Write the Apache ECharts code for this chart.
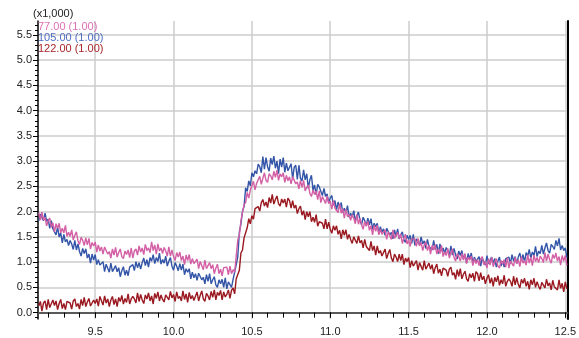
<!DOCTYPE html>
<html>
<head>
<meta charset="utf-8">
<script src="https://cdn.jsdelivr.net/npm/echarts@6/dist/echarts.min.js"></script>
<style>
html, body { margin: 0; padding: 0; background: #fff; }
#chart { width: 579px; height: 338px; }
</style>
</head>
<body>
<div id="chart"></div>
<script>
// retention time (min)
var times = [
  9.14, 9.15, 9.16, 9.17, 9.18, 9.19, 9.20, 9.21, 9.22, 9.23, 9.24, 9.25, 9.26, 9.27, 9.28, 9.29, 9.30, 9.31, 9.32, 9.33,
  9.34, 9.35, 9.36, 9.37, 9.38, 9.39, 9.40, 9.41, 9.42, 9.43, 9.44, 9.45, 9.46, 9.47, 9.48, 9.49, 9.50, 9.51, 9.52, 9.53,
  9.54, 9.55, 9.56, 9.57, 9.58, 9.59, 9.60, 9.61, 9.62, 9.63, 9.64, 9.65, 9.66, 9.67, 9.68, 9.69, 9.70, 9.71, 9.72, 9.73,
  9.74, 9.75, 9.76, 9.77, 9.78, 9.79, 9.80, 9.81, 9.82, 9.83, 9.84, 9.85, 9.86, 9.87, 9.88, 9.89, 9.90, 9.91, 9.92, 9.93,
  9.94, 9.95, 9.96, 9.97, 9.98, 9.99, 10.00, 10.01, 10.02, 10.03, 10.04, 10.05, 10.06, 10.07, 10.08, 10.09, 10.10, 10.11, 10.12, 10.13,
  10.14, 10.15, 10.16, 10.17, 10.18, 10.19, 10.20, 10.21, 10.22, 10.23, 10.24, 10.25, 10.26, 10.27, 10.28, 10.29, 10.30, 10.31, 10.32, 10.33,
  10.34, 10.35, 10.36, 10.37, 10.38, 10.39, 10.40, 10.41, 10.42, 10.43, 10.44, 10.45, 10.46, 10.47, 10.48, 10.49, 10.50, 10.51, 10.52, 10.53,
  10.54, 10.55, 10.56, 10.57, 10.58, 10.59, 10.60, 10.61, 10.62, 10.63, 10.64, 10.65, 10.66, 10.67, 10.68, 10.69, 10.70, 10.71, 10.72, 10.73,
  10.74, 10.75, 10.76, 10.77, 10.78, 10.79, 10.80, 10.81, 10.82, 10.83, 10.84, 10.85, 10.86, 10.87, 10.88, 10.89, 10.90, 10.91, 10.92, 10.93,
  10.94, 10.95, 10.96, 10.97, 10.98, 10.99, 11.00, 11.01, 11.02, 11.03, 11.04, 11.05, 11.06, 11.07, 11.08, 11.09, 11.10, 11.11, 11.12, 11.13,
  11.14, 11.15, 11.16, 11.17, 11.18, 11.19, 11.20, 11.21, 11.22, 11.23, 11.24, 11.25, 11.26, 11.27, 11.28, 11.29, 11.30, 11.31, 11.32, 11.33,
  11.34, 11.35, 11.36, 11.37, 11.38, 11.39, 11.40, 11.41, 11.42, 11.43, 11.44, 11.45, 11.46, 11.47, 11.48, 11.49, 11.50, 11.51, 11.52, 11.53,
  11.54, 11.55, 11.56, 11.57, 11.58, 11.59, 11.60, 11.61, 11.62, 11.63, 11.64, 11.65, 11.66, 11.67, 11.68, 11.69, 11.70, 11.71, 11.72, 11.73,
  11.74, 11.75, 11.76, 11.77, 11.78, 11.79, 11.80, 11.81, 11.82, 11.83, 11.84, 11.85, 11.86, 11.87, 11.88, 11.89, 11.90, 11.91, 11.92, 11.93,
  11.94, 11.95, 11.96, 11.97, 11.98, 11.99, 12.00, 12.01, 12.02, 12.03, 12.04, 12.05, 12.06, 12.07, 12.08, 12.09, 12.10, 12.11, 12.12, 12.13,
  12.14, 12.15, 12.16, 12.17, 12.18, 12.19, 12.20, 12.21, 12.22, 12.23, 12.24, 12.25, 12.26, 12.27, 12.28, 12.29, 12.30, 12.31, 12.32, 12.33,
  12.34, 12.35, 12.36, 12.37, 12.38, 12.39, 12.40, 12.41, 12.42, 12.43, 12.44, 12.45, 12.46, 12.47, 12.48, 12.49, 12.50, 12.51
];

// intensities (x1,000)
var ion77 = [
  1.98, 1.83, 1.99, 1.83, 1.89, 1.72, 1.82, 1.87, 1.69, 1.78, 1.60, 1.76, 1.67, 1.77, 1.58, 1.67, 1.58, 1.73, 1.51, 1.59,
  1.51, 1.64, 1.44, 1.53, 1.60, 1.42, 1.35, 1.49, 1.43, 1.33, 1.48, 1.34, 1.47, 1.26, 1.39, 1.32, 1.40, 1.20, 1.34, 1.22,
  1.30, 1.16, 1.30, 1.32, 1.16, 1.21, 1.08, 1.26, 1.14, 1.29, 1.10, 1.19, 1.26, 1.11, 1.07, 1.22, 1.15, 1.24, 1.09, 1.28,
  1.08, 1.22, 1.26, 1.14, 1.32, 1.20, 1.28, 1.15, 1.35, 1.23, 1.28, 1.19, 1.40, 1.23, 1.34, 1.16, 1.36, 1.22, 1.28, 1.17,
  1.29, 1.22, 1.12, 1.30, 1.12, 1.24, 1.11, 1.03, 1.19, 1.10, 1.20, 1.03, 1.12, 0.95, 1.14, 1.03, 1.15, 0.96, 1.07, 0.97,
  0.98, 1.06, 0.87, 1.01, 1.04, 0.85, 1.04, 0.87, 0.84, 0.99, 0.87, 0.95, 0.77, 0.88, 0.96, 0.77, 0.86, 0.73, 0.89, 0.86,
  0.90, 0.75, 0.92, 0.77, 0.85, 0.80, 1.12, 1.44, 1.53, 1.82, 1.83, 2.14, 2.18, 2.38, 2.27, 2.43, 2.40, 2.60, 2.43, 2.56,
  2.53, 2.70, 2.54, 2.66, 2.77, 2.62, 2.58, 2.75, 2.71, 2.63, 2.80, 2.68, 2.82, 2.62, 2.75, 2.69, 2.77, 2.58, 2.72, 2.61,
  2.69, 2.55, 2.69, 2.71, 2.55, 2.59, 2.45, 2.62, 2.48, 2.62, 2.41, 2.48, 2.53, 2.36, 2.30, 2.43, 2.34, 2.41, 2.24, 2.41,
  2.18, 2.30, 2.31, 2.16, 2.31, 2.16, 2.21, 2.05, 2.22, 2.07, 2.09, 1.98, 2.16, 1.97, 2.06, 1.87, 2.05, 1.90, 1.95, 1.83,
  1.94, 1.87, 1.76, 1.94, 1.75, 1.87, 1.74, 1.65, 1.81, 1.71, 1.81, 1.63, 1.72, 1.54, 1.73, 1.61, 1.73, 1.54, 1.65, 1.55,
  1.56, 1.64, 1.45, 1.60, 1.63, 1.45, 1.64, 1.47, 1.44, 1.59, 1.47, 1.55, 1.37, 1.48, 1.55, 1.36, 1.44, 1.31, 1.46, 1.43,
  1.46, 1.31, 1.47, 1.32, 1.39, 1.23, 1.34, 1.40, 1.23, 1.33, 1.16, 1.33, 1.24, 1.35, 1.16, 1.26, 1.17, 1.33, 1.11, 1.20,
  1.13, 1.27, 1.08, 1.18, 1.26, 1.09, 1.02, 1.17, 1.11, 1.02, 1.17, 1.04, 1.17, 0.97, 1.10, 1.04, 1.12, 0.93, 1.07, 0.97,
  1.05, 0.93, 1.07, 1.11, 0.95, 1.01, 0.88, 1.07, 0.94, 1.10, 0.91, 1.00, 1.07, 0.92, 0.88, 1.03, 0.96, 1.05, 0.90, 1.09,
  0.88, 1.02, 1.05, 0.92, 1.10, 0.97, 1.05, 0.91, 1.11, 0.98, 1.03, 0.94, 1.15, 0.98, 1.10, 0.93, 1.14, 1.01, 1.09, 0.99,
  1.12, 1.07, 0.99, 1.19, 1.02, 1.16, 1.05, 0.98, 1.15, 1.07, 1.18, 1.02, 1.11, 0.94, 1.13, 1.02, 1.13, 0.94
];
var ion105 = [
  1.82, 1.95, 1.97, 1.82, 1.97, 1.81, 1.85, 1.67, 1.82, 1.66, 1.66, 1.54, 1.70, 1.50, 1.58, 1.38, 1.55, 1.40, 1.45, 1.33,
  1.43, 1.36, 1.25, 1.43, 1.24, 1.36, 1.21, 1.12, 1.27, 1.17, 1.26, 1.08, 1.16, 0.98, 1.16, 1.04, 1.15, 0.95, 1.05, 0.94,
  0.94, 1.01, 0.81, 0.96, 0.98, 0.80, 0.98, 0.81, 0.78, 0.93, 0.81, 0.89, 0.71, 0.83, 0.91, 0.74, 0.84, 0.73, 0.90, 0.90,
  0.95, 0.83, 1.01, 0.89, 0.99, 0.86, 0.99, 1.08, 0.93, 1.05, 0.90, 1.09, 1.02, 1.15, 0.97, 1.09, 1.01, 1.18, 0.96, 1.05,
  0.98, 1.12, 0.92, 1.02, 1.09, 0.92, 0.84, 0.99, 0.92, 0.83, 0.97, 0.84, 0.96, 0.75, 0.87, 0.80, 0.87, 0.67, 0.80, 0.69,
  0.77, 0.64, 0.78, 0.81, 0.65, 0.70, 0.57, 0.75, 0.62, 0.77, 0.57, 0.65, 0.71, 0.55, 0.50, 0.65, 0.57, 0.66, 0.50, 0.69,
  0.47, 0.61, 0.63, 0.50, 0.66, 0.63, 0.95, 1.11, 1.60, 1.75, 2.01, 2.10, 2.47, 2.40, 2.61, 2.51, 2.77, 2.69, 2.81, 2.75,
  2.94, 2.89, 2.77, 3.09, 2.84, 3.07, 2.89, 2.80, 3.06, 2.93, 3.10, 2.86, 3.00, 2.75, 3.04, 2.88, 3.07, 2.78, 2.96, 2.81,
  2.82, 2.95, 2.65, 2.88, 2.92, 2.64, 2.92, 2.66, 2.61, 2.83, 2.63, 2.75, 2.46, 2.63, 2.72, 2.42, 2.53, 2.33, 2.54, 2.49,
  2.48, 2.32, 2.46, 2.30, 2.35, 2.18, 2.27, 2.32, 2.13, 2.22, 2.03, 2.19, 2.08, 2.18, 1.98, 2.07, 1.97, 2.12, 1.89, 1.97,
  1.89, 2.02, 1.82, 1.92, 1.99, 1.82, 1.74, 1.89, 1.82, 1.73, 1.87, 1.74, 1.86, 1.65, 1.77, 1.70, 1.77, 1.57, 1.70, 1.59,
  1.66, 1.53, 1.67, 1.70, 1.54, 1.59, 1.46, 1.64, 1.51, 1.66, 1.46, 1.54, 1.60, 1.44, 1.39, 1.53, 1.45, 1.53, 1.37, 1.55,
  1.33, 1.46, 1.48, 1.34, 1.50, 1.36, 1.42, 1.27, 1.45, 1.31, 1.34, 1.24, 1.43, 1.25, 1.35, 1.17, 1.36, 1.22, 1.28, 1.17,
  1.29, 1.23, 1.13, 1.32, 1.14, 1.27, 1.14, 1.06, 1.22, 1.13, 1.23, 1.06, 1.15, 0.98, 1.17, 1.06, 1.18, 0.99, 1.10, 1.01,
  1.02, 1.11, 0.92, 1.08, 1.11, 0.94, 1.13, 0.97, 0.94, 1.10, 0.98, 1.07, 0.90, 1.02, 1.10, 0.92, 1.02, 0.90, 1.07, 1.05,
  1.10, 0.97, 1.15, 1.02, 1.11, 0.97, 1.10, 1.18, 1.03, 1.15, 1.00, 1.19, 1.12, 1.25, 1.08, 1.20, 1.13, 1.31, 1.11, 1.22,
  1.17, 1.33, 1.16, 1.28, 1.38, 1.23, 1.18, 1.35, 1.31, 1.25, 1.43, 1.32, 1.47, 1.24, 1.33, 1.23, 1.28, 1.09
];
var ion122 = [
  0.13, 0.22, 0.03, 0.19, 0.23, 0.06, 0.26, 0.10, 0.09, 0.25, 0.14, 0.23, 0.06, 0.18, 0.26, 0.08, 0.18, 0.06, 0.22, 0.20,
  0.19, 0.07, 0.23, 0.27, 0.12, 0.18, 0.07, 0.26, 0.14, 0.30, 0.12, 0.21, 0.28, 0.13, 0.10, 0.25, 0.18, 0.27, 0.13, 0.32,
  0.29, 0.15, 0.33, 0.19, 0.27, 0.12, 0.25, 0.32, 0.16, 0.27, 0.12, 0.30, 0.22, 0.34, 0.17, 0.28, 0.20, 0.37, 0.17, 0.27,
  0.32, 0.27, 0.19, 0.39, 0.22, 0.36, 0.25, 0.18, 0.35, 0.27, 0.39, 0.23, 0.33, 0.17, 0.38, 0.28, 0.41, 0.23, 0.35, 0.26,
  0.21, 0.35, 0.38, 0.25, 0.42, 0.29, 0.36, 0.22, 0.41, 0.28, 0.32, 0.23, 0.43, 0.26, 0.37, 0.20, 0.40, 0.27, 0.34, 0.24,
  0.26, 0.41, 0.23, 0.34, 0.43, 0.27, 0.22, 0.38, 0.33, 0.25, 0.42, 0.30, 0.45, 0.25, 0.40, 0.34, 0.44, 0.25, 0.41, 0.31,
  0.36, 0.45, 0.28, 0.44, 0.49, 0.37, 0.67, 0.66, 0.84, 1.18, 1.24, 1.48, 1.46, 1.68, 1.86, 1.76, 1.92, 1.85, 2.06, 2.08,
  2.10, 2.01, 2.18, 2.24, 2.11, 2.19, 2.08, 2.28, 2.17, 2.34, 2.15, 2.24, 2.31, 2.16, 2.11, 2.25, 2.17, 2.25, 2.09, 2.27,
  2.22, 2.07, 2.22, 2.07, 2.13, 1.96, 2.06, 2.11, 1.93, 2.02, 1.84, 2.00, 1.90, 2.00, 1.80, 1.89, 1.79, 1.94, 1.71, 1.80,
  1.83, 1.77, 1.66, 1.85, 1.66, 1.79, 1.65, 1.57, 1.72, 1.63, 1.72, 1.55, 1.63, 1.46, 1.64, 1.53, 1.64, 1.45, 1.55, 1.45,
  1.37, 1.50, 1.51, 1.37, 1.52, 1.38, 1.43, 1.28, 1.45, 1.31, 1.33, 1.23, 1.41, 1.23, 1.32, 1.14, 1.32, 1.18, 1.23, 1.12,
  1.12, 1.26, 1.07, 1.17, 1.25, 1.08, 1.01, 1.16, 1.10, 1.01, 1.16, 1.03, 1.16, 0.95, 1.08, 1.01, 1.09, 0.89, 1.03, 0.92,
  0.95, 1.03, 0.84, 0.99, 1.02, 0.84, 1.03, 0.86, 0.83, 0.98, 0.86, 0.95, 0.77, 0.89, 0.96, 0.78, 0.86, 0.73, 0.88, 0.86,
  0.84, 0.72, 0.86, 0.90, 0.74, 0.79, 0.66, 0.85, 0.72, 0.87, 0.67, 0.76, 0.82, 0.67, 0.62, 0.77, 0.69, 0.78, 0.62, 0.81,
  0.77, 0.63, 0.79, 0.65, 0.72, 0.57, 0.68, 0.75, 0.58, 0.69, 0.52, 0.70, 0.61, 0.73, 0.54, 0.65, 0.57, 0.74, 0.52, 0.62,
  0.67, 0.62, 0.52, 0.72, 0.55, 0.69, 0.56, 0.49, 0.66, 0.58, 0.68, 0.52, 0.62, 0.46, 0.65, 0.55, 0.68, 0.50, 0.61, 0.52,
  0.46, 0.60, 0.62, 0.49, 0.66, 0.53, 0.59, 0.45, 0.64, 0.51, 0.54, 0.45, 0.65, 0.48, 0.58, 0.41, 0.61, 0.47
];

var seriesNames = ['77.00 (1.00)', '105.00 (1.00)', '122.00 (1.00)'];

// tick positions
var xMajorTicks = [9.5, 10.0, 10.5, 11.0, 11.5, 12.0, 12.5];
var xMinorTicks = [9.2, 9.3, 9.4, 9.5, 9.6, 9.7, 9.8, 9.9, 10.0, 10.1, 10.2, 10.3, 10.4, 10.5,
  10.6, 10.7, 10.8, 10.9, 11.0, 11.1, 11.2, 11.3, 11.4, 11.5, 11.6, 11.7, 11.8, 11.9,
  12.0, 12.1, 12.2, 12.3, 12.4, 12.5];
var yMajorTicks = [0.0, 0.5, 1.0, 1.5, 2.0, 2.5, 3.0, 3.5, 4.0, 4.5, 5.0, 5.5];
var yMinorTicks = [-0.1, 0.0, 0.1, 0.2, 0.3, 0.4, 0.5, 0.6, 0.7, 0.8, 0.9, 1.0, 1.1, 1.2, 1.3, 1.4,
  1.5, 1.6, 1.7, 1.8, 1.9, 2.0, 2.1, 2.2, 2.3, 2.4, 2.5, 2.6, 2.7, 2.8, 2.9, 3.0, 3.1, 3.2,
  3.3, 3.4, 3.5, 3.6, 3.7, 3.8, 3.9, 4.0, 4.1, 4.2, 4.3, 4.4, 4.5, 4.6, 4.7, 4.8, 4.9, 5.0,
  5.1, 5.2, 5.3, 5.4, 5.5, 5.6, 5.7];

var X_MIN = 9.135, X_MAX = 12.514;
var Y_MIN = -0.127, Y_MAX = 5.777;
var FONT = '"Liberation Sans", Arial, sans-serif';

function pairs(vals) {
  return times.map(function (t, i) { return [t, vals[i]]; });
}

var chart = echarts.init(document.getElementById('chart'));

var option = {
  animation: false,
  grid: { left: 38, right: 2, top: 21, bottom: 19 },
  legend: {
    orient: 'vertical',
    left: 33,
    top: 21,
    padding: 0,
    itemGap: 0,
    itemWidth: 0,
    itemHeight: 10,
    icon: 'rect',
    selectedMode: false,
    textStyle: { fontFamily: FONT, fontSize: 11, lineHeight: 10 },
    data: [
      { name: seriesNames[0], textStyle: { color: '#e070b5' } },
      { name: seriesNames[1], textStyle: { color: '#4f6ec4' } },
      { name: seriesNames[2], textStyle: { color: '#a8262a' } }
    ]
  },
  graphic: [{
    type: 'text', left: 33, top: 8,
    style: { text: '(x1,000)', font: '11px ' + FONT, fill: '#222' }
  }],
  xAxis: [
    {
      type: 'value', min: X_MIN, max: X_MAX, position: 'bottom',
      axisLine: { lineStyle: { color: '#000', width: 1.5 } },
      axisTick: { customValues: xMajorTicks, length: 5, lineStyle: { color: '#000' } },
      axisLabel: {
        customValues: xMajorTicks, margin: 7, color: '#222', fontFamily: FONT, fontSize: 11,
        formatter: function (v) { return v.toFixed(1); }
      },
      splitLine: { show: true, lineStyle: { color: '#cdcdcd', width: 1.5 } }
    },
    {
      type: 'value', min: X_MIN, max: X_MAX, position: 'bottom',
      axisLine: { show: false },
      axisTick: { customValues: xMinorTicks, length: 5, lineStyle: { color: '#000' } },
      axisLabel: { show: false },
      splitLine: { show: false }
    },
    {
      type: 'value', min: X_MIN, max: X_MAX, position: 'top',
      axisLine: { lineStyle: { color: '#666', width: 1.5 } },
      axisTick: { show: false }, axisLabel: { show: false }, splitLine: { show: false }
    }
  ],
  yAxis: [
    {
      type: 'value', min: Y_MIN, max: Y_MAX, position: 'left',
      axisLine: { lineStyle: { color: '#000', width: 1.5 } },
      axisTick: { customValues: yMajorTicks, length: 5, lineStyle: { color: '#000' } },
      axisLabel: {
        customValues: yMajorTicks, margin: 6, color: '#222', fontFamily: FONT, fontSize: 11,
        formatter: function (v) { return v.toFixed(1); }
      },
      splitLine: { show: true, lineStyle: { color: '#cdcdcd', width: 1.5 } }
    },
    {
      type: 'value', min: Y_MIN, max: Y_MAX, position: 'left',
      axisLine: { show: false },
      axisTick: { customValues: yMinorTicks, length: 3, lineStyle: { color: '#000' } },
      axisLabel: { show: false },
      splitLine: { show: false }
    },
    {
      type: 'value', min: Y_MIN, max: Y_MAX, position: 'right',
      axisLine: { lineStyle: { color: '#000', width: 2 } },
      axisTick: { show: false }, axisLabel: { show: false }, splitLine: { show: false }
    }
  ],
  series: [
    {
      name: seriesNames[1], type: 'line', data: pairs(ion105),
      showSymbol: false, silent: true,
      lineStyle: { color: '#3355a8', width: 1.4 }, itemStyle: { color: '#3355a8' }
    },
    {
      name: seriesNames[0], type: 'line', data: pairs(ion77),
      showSymbol: false, silent: true,
      lineStyle: { color: '#d35fa5', width: 1.4 }, itemStyle: { color: '#d35fa5' }
    },
    {
      name: seriesNames[2], type: 'line', data: pairs(ion122),
      showSymbol: false, silent: true,
      lineStyle: { color: '#9a1820', width: 1.4 }, itemStyle: { color: '#9a1820' }
    }
  ]
};

chart.setOption(option);
</script>
</body>
</html>
